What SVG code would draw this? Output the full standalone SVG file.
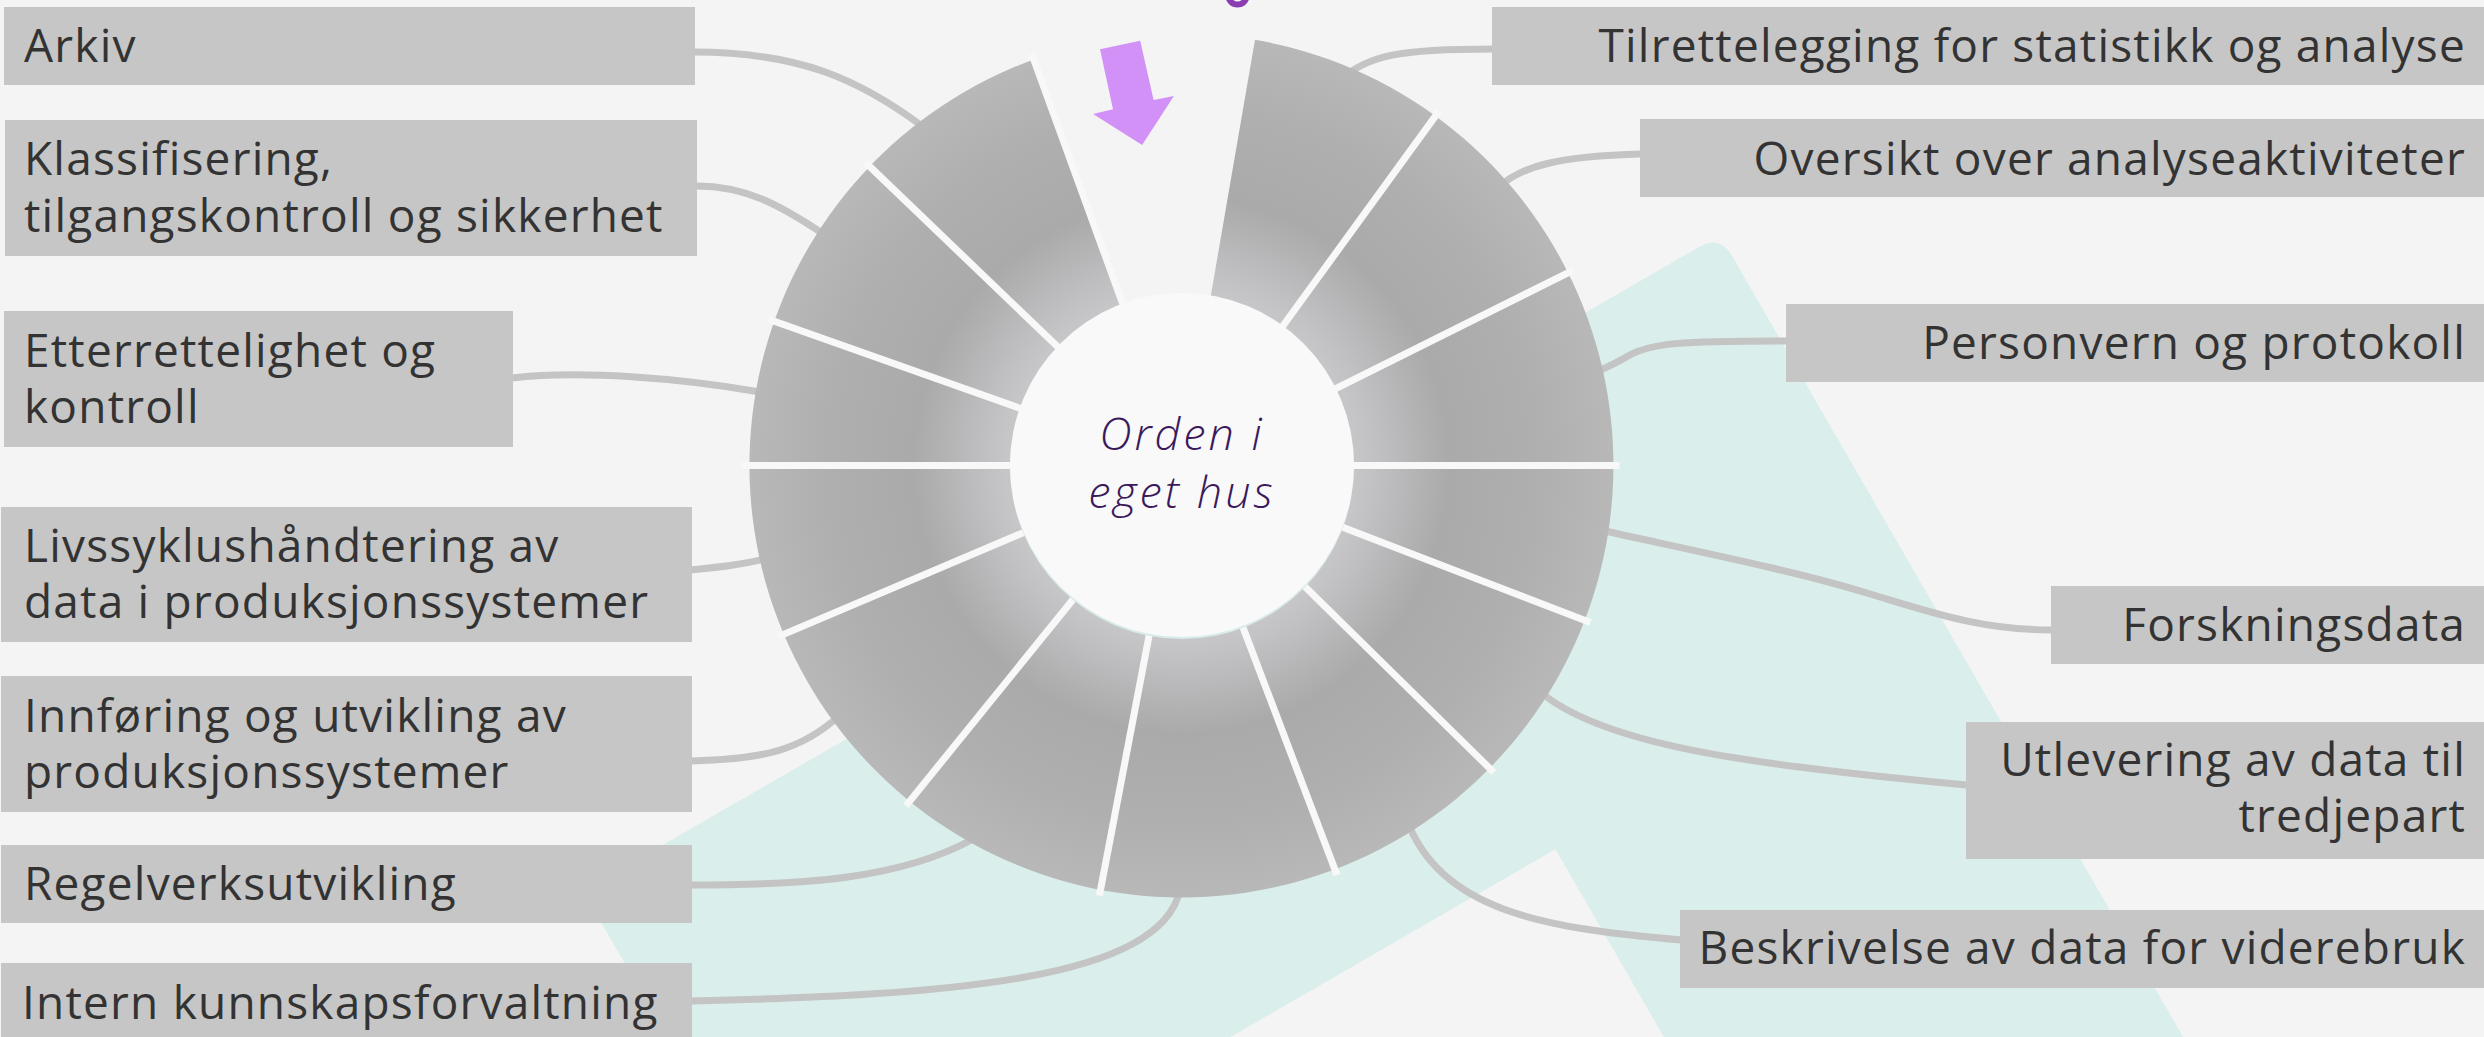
<svg xmlns="http://www.w3.org/2000/svg" width="2484" height="1037" viewBox="0 0 2484 1037">
<defs>
<radialGradient id="ringGrad" gradientUnits="userSpaceOnUse" cx="1181.5" cy="465.5" r="432">
<stop offset="0.36" stop-color="#cbcacd"/>
<stop offset="0.44" stop-color="#c2c1c4"/>
<stop offset="0.62" stop-color="#aaaaaa"/>
<stop offset="0.82" stop-color="#afafaf"/>
<stop offset="1" stop-color="#b8b8b8"/>
</radialGradient>
<style>
.box{fill:#c6c6c6}
.lbl{font-family:"Open Sans","Noto Sans","Liberation Sans",sans-serif;font-size:46px;letter-spacing:1.2px;fill:#333333}
.r{text-anchor:end}
.con{fill:none;stroke:#c4c4c4;stroke-width:7}
.div{stroke:#f8f8f8;stroke-width:7;stroke-linecap:butt}
.ctr{font-family:"Open Sans","Noto Sans","Liberation Sans",sans-serif;font-size:45px;font-weight:300;letter-spacing:3px;font-style:italic;fill:#3b1a5c;text-anchor:middle}
</style>
</defs>
<rect width="2484" height="1037" fill="#f4f4f4"/>
<path id="backdrop" d="M 1700,246.5 Q 1720,235 1732,255.8 L 2320,1274 L 1930.5,1498.8 L 1555.5,849.3 L 808,1281 L 583,891 Z" fill="#daeeeb"/>
<ellipse cx="1237.5" cy="-4" rx="9" ry="8.5" fill="none" stroke="#8a3db0" stroke-width="6"/>
<g id="connectors">
<path class="con" d="M 694,52 C 800,52 860,80 922,126"/>
<path class="con" d="M 697,186 C 745,186 780,205 822,233"/>
<path class="con" d="M 512,378 C 580,370 680,378 760,392"/>
<path class="con" d="M 691,570 C 720,567 740,565 765,559"/>
<path class="con" d="M 691,761 C 760,759 800,752 840,715"/>
<path class="con" d="M 691,885 C 800,885 900,880 975,838"/>
<path class="con" d="M 691,1001 C 950,995 1160,980 1180,890"/>
<path class="con" d="M 1493,49 C 1400,49 1368,55 1340,80"/>
<path class="con" d="M 1641,154 C 1560,156 1520,166 1498,188"/>
<path class="con" d="M 1787,341 C 1680,341 1650,343 1628,356 C 1618,362 1610,366 1596,372"/>
<path class="con" d="M 2052,630 C 1980,630 1930,612 1870,594 C 1800,572 1700,552 1605,531"/>
<path class="con" d="M 1967,785 C 1750,765 1600,745 1538,690"/>
<path class="con" d="M 1681,940 C 1540,928 1440,910 1406,818"/>
</g>
<g id="wheel">
<path d="M 1033.8,59.5 A 432 432 0 1 0 1255,39.8 L 1207,317.7 A 150 150 0 1 1 1130.2,324.5 Z" fill="url(#ringGrad)"/>
<line class="div" x1="1346.5" y1="465.5" x2="1619.5" y2="465.5"/>
<line class="div" x1="1329.2" y1="391.9" x2="1573.5" y2="270.1"/>
<line class="div" x1="1278.5" y1="332" x2="1439" y2="111.1"/>
<line class="div" x1="1125.1" y1="310.4" x2="1031.7" y2="53.9"/>
<line class="div" x1="1062.4" y1="351.3" x2="865.4" y2="162.4"/>
<line class="div" x1="1026" y1="410.4" x2="768.6" y2="319.3"/>
<line class="div" x1="1016.5" y1="465.5" x2="741.5" y2="465.5"/>
<line class="div" x1="1029.6" y1="530" x2="778.3" y2="636.6"/>
<line class="div" x1="1077.7" y1="593.7" x2="905.9" y2="805.9"/>
<line class="div" x1="1150.6" y1="627.6" x2="1099.4" y2="895.7"/>
<line class="div" x1="1240.1" y1="619.7" x2="1337" y2="875"/>
<line class="div" x1="1299.2" y1="581.1" x2="1493.9" y2="772.5"/>
<line class="div" x1="1335.5" y1="524.6" x2="1590.4" y2="622.5"/>
</g>
<g id="center">
<circle cx="1182" cy="467" r="172" fill="#d8ebe8"/>
<circle cx="1182" cy="465" r="172" fill="#f9f9f9"/>
<text class="ctr" x="1182" y="450">Orden i<tspan x="1182" dy="58">eget hus</tspan></text>
</g>
<polygon id="arrow" points="1100,49.3 1140.2,40.7 1153.6,100 1173.9,96 1142.1,145 1093.1,114 1113,109.3" fill="#d291f7"/>
<g id="n-arkiv"><rect class="box" x="4" y="7" width="691" height="78"/><text class="lbl" x="24" y="62">Arkiv</text></g>
<g id="n-klassifisering"><rect class="box" x="5" y="120" width="692" height="136"/><text class="lbl" x="24" y="175">Klassifisering,<tspan x="24" dy="57">tilgangskontroll og sikkerhet</tspan></text></g>
<g id="n-etterrettelighet"><rect class="box" x="4" y="311" width="509" height="136"/><text class="lbl" x="24" y="367">Etterrettelighet og<tspan x="24" dy="56">kontroll</tspan></text></g>
<g id="n-livssyklus"><rect class="box" x="1" y="507" width="691" height="135"/><text class="lbl" x="24" y="562">Livssyklushåndtering av<tspan x="24" dy="56">data i produksjonssystemer</tspan></text></g>
<g id="n-innforing"><rect class="box" x="1" y="676" width="691" height="136"/><text class="lbl" x="24" y="732">Innføring og utvikling av<tspan x="24" dy="56">produksjonssystemer</tspan></text></g>
<g id="n-regelverk"><rect class="box" x="1" y="845" width="691" height="78"/><text class="lbl" x="24" y="900">Regelverksutvikling</text></g>
<g id="n-intern"><rect class="box" x="1" y="963" width="691" height="78"/><text class="lbl" x="22" y="1019">Intern kunnskapsforvaltning</text></g>
<g id="n-tilrettelegging"><rect class="box" x="1492" y="7" width="996" height="78"/><text class="lbl r" x="2466" y="62">Tilrettelegging for statistikk og analyse</text></g>
<g id="n-oversikt"><rect class="box" x="1640" y="119" width="848" height="78"/><text class="lbl r" x="2466" y="175">Oversikt over analyseaktiviteter</text></g>
<g id="n-personvern"><rect class="box" x="1786" y="304" width="702" height="78"/><text class="lbl r" x="2466" y="359">Personvern og protokoll</text></g>
<g id="n-forskningsdata"><rect class="box" x="2051" y="586" width="437" height="78"/><text class="lbl r" x="2466" y="641">Forskningsdata</text></g>
<g id="n-utlevering"><rect class="box" x="1966" y="722" width="522" height="137"/><text class="lbl r" x="2466" y="776">Utlevering av data til<tspan x="2466" dy="56">tredjepart</tspan></text></g>
<g id="n-beskrivelse"><rect class="box" x="1680" y="910" width="808" height="78"/><text class="lbl r" x="2466" y="964">Beskrivelse av data for viderebruk</text></g>
</svg>
